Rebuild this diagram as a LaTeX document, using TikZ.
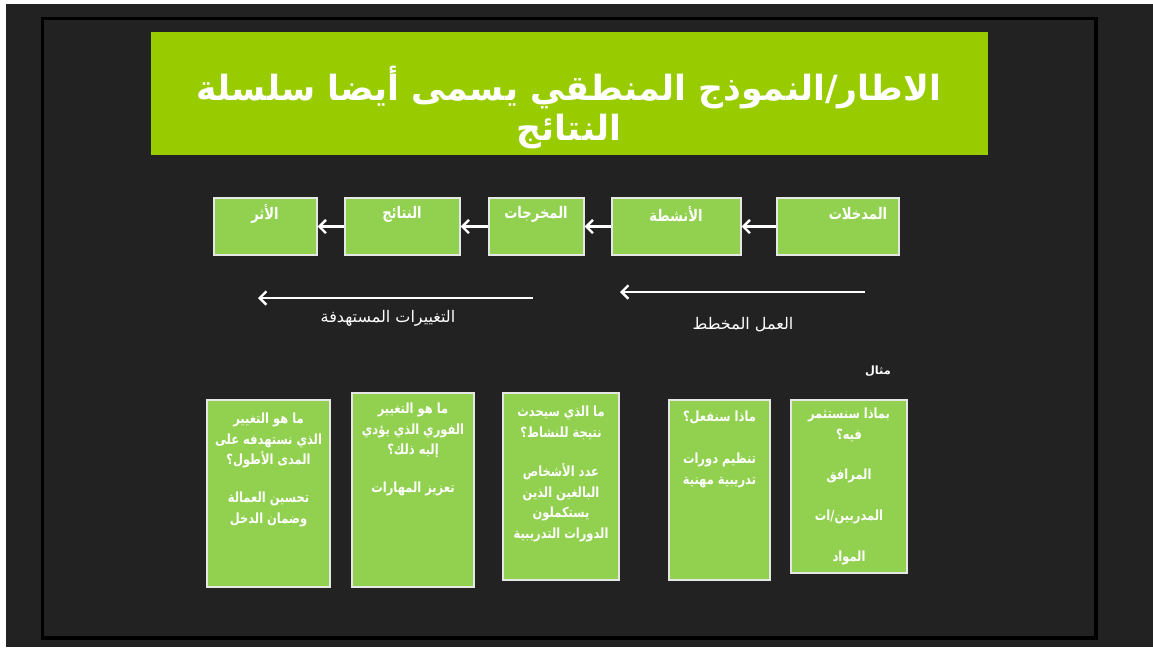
\documentclass[tikz,border=0pt]{standalone}
\usepackage{fontspec}
\TeXXeTstate=1
\newfontfamily\arabicfont[Script=Arabic]{DejaVu Sans}
\newfontfamily\arabiccond[Script=Arabic,FakeStretch=0.82]{DejaVu Sans}
\usetikzlibrary{arrows.meta,fit}
\definecolor{bgdark}{HTML}{222222}
\definecolor{titlegreen}{HTML}{99CC00}
\definecolor{boxgreen}{HTML}{92D050}
\definecolor{boxedge}{HTML}{E6E6E6}
\newcommand\artext[1]{\beginR #1\endR}
\begin{document}
\begin{tikzpicture}[x=0.75pt,y=-0.75pt,
  gbox/.style={draw=boxedge, line width=0.9pt, fill=boxgreen, inner sep=0pt},
  toptxt/.style={text=white, font=\arabiccond\bfseries\fontsize{12}{14}\selectfont, inner sep=0pt},
  btxt/.style={text=white, font=\arabiccond\bfseries\fontsize{10.5}{15.4}\selectfont, align=center, anchor=north, inner sep=0pt},
  lbl/.style={text=white, font=\arabicfont\fontsize{12}{14}\selectfont, inner sep=0pt},
  flow/.style={draw=white, line width=1.8pt, -{Straight Barb[length=5pt,width=10pt,line width=1.8pt]}}]
% background and frame
\fill[white] (0,0) rectangle (1153,647);
\fill[bgdark] (6,4) rectangle (1153,647);
\draw[black, line width=2.3pt] (42.5,18.5) rectangle (1096,638);
% title
\node[fill=titlegreen, inner sep=0pt, fit={(151,32) (988,155)}] (title) {};
\node[text=white, font=\arabicfont\bfseries\fontsize{26}{30}\selectfont, align=center, inner sep=0pt] (titletxt) at (569,108)
  {\artext{الاطار/النموذج المنطقي يسمى أيضا سلسلة}\\ \artext{النتائج}};
% top row
\node[gbox, fit={(777,198) (899,255)}] (a1) {};
\node[gbox, fit={(612,198) (741,255)}] (a2) {};
\node[gbox, fit={(489,198) (584,255)}] (a3) {};
\node[gbox, fit={(345,198) (460,255)}] (a4) {};
\node[gbox, fit={(214,198) (317,255)}] (a5) {};
\node[toptxt] (a1t) at (858,214) {\artext{المدخلات}};
\node[toptxt] (a2t) at (676,214) {\artext{الأنشطة}};
\node[toptxt] (a3t) at (536,214) {\artext{المخرجات}};
\node[toptxt] (a4t) at (402,214) {\artext{النتائج}};
\node[toptxt] (a5t) at (265,214) {\artext{الأثر}};
\draw[flow] (a1.west) -- (a2.east);
\draw[flow] (a2.west) -- (a3.east);
\draw[flow] (a3.west) -- (a4.east);
\draw[flow] (a4.west) -- (a5.east);
% long arrows
\coordinate (p1s) at (865,292);
\coordinate (p1e) at (620,292);
\coordinate (p2s) at (533,298);
\coordinate (p2e) at (258,298);
\draw[flow] (p1s) -- (p1e);
\draw[flow] (p2s) -- (p2e);
\node[lbl] (l1) at (743,325) {\artext{العمل المخطط}};
\node[lbl] (l2) at (388,318) {\artext{التغييرات المستهدفة}};
\node[text=white, font=\arabicfont\bfseries\fontsize{8.5}{10}\selectfont, inner sep=0pt] (ex) at (878,371) {\artext{مثال}};
% bottom boxes
\node[gbox, fit={(207,400) (330,587)}] (b1) {};
\node[gbox, fit={(352,393) (474,587)}] (b2) {};
\node[gbox, fit={(503,393) (619,580)}] (b3) {};
\node[gbox, fit={(669,400) (770,580)}] (b4) {};
\node[gbox, fit={(791,400) (907,573)}] (b5) {};
\node[btxt] (b1t) at (268.5,413) {\artext{ما هو التغيير}\\ \artext{الذي نستهدفه على}\\ \artext{المدى الأطول؟}\\[13pt] \artext{تحسين العمالة}\\ \artext{وضمان الدخل}};
\node[btxt] (b2t) at (413,403) {\artext{ما هو التغيير}\\ \artext{الفوري الذي يؤدي}\\ \artext{إليه ذلك؟}\\[13pt] \artext{تعزيز المهارات}};
\node[btxt] (b3t) at (561,406) {\artext{ما الذي سيحدث}\\ \artext{نتيجة للنشاط؟}\\[14pt] \artext{عدد الأشخاص}\\ \artext{البالغين الذين}\\ \artext{يستكملون}\\ \artext{الدورات التدريبية}};
\node[btxt] (b4t) at (719.5,411) {\artext{ماذا سنفعل؟}\\[16pt] \artext{تنظيم دورات}\\ \artext{تدريبية مهنية}};
\node[btxt] (b5t) at (849,408) {\artext{بماذا سنستثمر}\\ \artext{فيه؟}\\[15pt] \artext{المرافق}\\[15pt] \artext{المدربين/ات}\\[15pt] \artext{المواد}};
\end{tikzpicture}
\end{document}
